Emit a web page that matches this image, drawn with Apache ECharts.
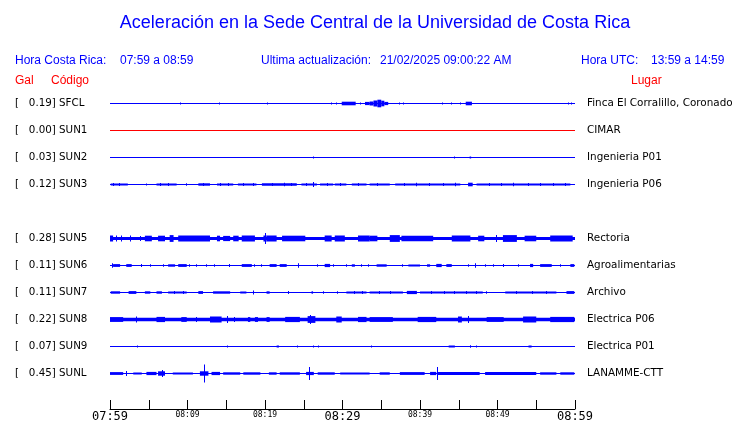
<!DOCTYPE html>
<html><head><meta charset="utf-8">
<script src="https://cdn.jsdelivr.net/npm/echarts@6/dist/echarts.min.js"></script>
<style>html,body{margin:0;padding:0;background:#fff}#c{width:740px;height:423px}</style>
</head><body><div id="c"></div>
<script>
const TITLE = 'Aceleración en la Sede Central de la Universidad de Costa Rica';
const HORA_CR_LABEL = 'Hora Costa Rica:';
const HORA_CR = '07:59 a 08:59';
const UPDATED_LABEL = 'Ultima actualización:';
const UPDATED = '21/02/2025 09:00:22 AM';
const HORA_UTC_LABEL = 'Hora UTC:';
const HORA_UTC = '13:59 a 14:59';

const codes  = ['SFCL','SUN1','SUN2','SUN3','','SUN5','SUN6','SUN7','SUN8','SUN9','SUNL'];
const gals   = ['0.19','0.00','0.03','0.12','','0.28','0.11','0.11','0.22','0.07','0.45'];
const places = ['Finca El Corralillo, Coronado','CIMAR','Ingenieria P01','Ingenieria P06','',
                'Rectoria','Agroalimentarias','Archivo','Electrica P06','Electrica P01','LANAMME-CTT'];
const tickLabels = ['07:59','','08:09','','08:19','','08:29','','08:39','','08:49','','08:59'];
const bigLabels = ['07:59','08:29','08:59'];

// Envelope bursts per station: [start minute, end minute, half amplitude in Gal]
const SFCL = [[9.1,9.1,0.05],[14.1,14.1,0.04],[20.3,20.3,0.05],[28.6,28.6,0.05],[29.2,29.2,0.05],[29.9,31.7,0.09],[32.3,32.3,0.05],[32.9,33.5,0.08],[33.5,34.0,0.10],[34.0,34.5,0.15],[34.5,35.0,0.19],[35.0,35.4,0.14],[35.4,35.9,0.08],[37.3,37.3,0.04],[37.9,37.9,0.04],[42.9,42.9,0.05],[44.0,44.0,0.05],[45.2,45.2,0.04],[45.9,46.7,0.09],[59.2,59.2,0.05],[59.6,59.6,0.05]];
const SUN1 = [];
const SUN2 = [[26.2,26.2,0.04],[44.4,44.4,0.04],[46.4,46.6,0.05]];
const SUN3 = [[0.1,2.3,0.05],[0.5,0.5,0.08],[1.2,1.2,0.08],[4.7,4.7,0.05],[6.0,8.6,0.05],[6.5,6.5,0.08],[7.6,7.6,0.08],[9.9,9.9,0.06],[11.4,12.9,0.06],[12.0,12.0,0.08],[13.8,15.9,0.05],[14.2,14.2,0.08],[15.3,15.3,0.08],[16.5,18.9,0.05],[17.2,17.2,0.08],[18.5,18.5,0.08],[19.6,24.1,0.06],[21.0,21.0,0.08],[22.5,22.5,0.09],[23.4,23.4,0.08],[24.7,26.7,0.05],[25.3,25.3,0.08],[26.2,26.2,0.12],[27.1,28.8,0.05],[28.0,28.0,0.08],[29.0,30.5,0.05],[29.8,29.8,0.08],[31.2,33.1,0.05],[32.0,32.0,0.08],[33.5,36.1,0.05],[34.5,34.5,0.08],[36.8,45.2,0.05],[38.0,38.0,0.08],[39.5,39.5,0.09],[41.2,41.2,0.08],[43.0,43.0,0.08],[44.6,44.6,0.09],[46.2,46.8,0.09],[47.3,59.4,0.05],[49.0,49.0,0.08],[50.5,50.5,0.08],[52.0,52.0,0.09],[54.0,54.0,0.08],[55.5,55.5,0.08],[57.2,57.2,0.08],[58.8,58.8,0.08]];
const SUN5 = [[0,60,0.075],[0,0.4,0.15],[0.9,0.9,0.15],[1.5,1.5,0.15],[2.6,2.6,0.15],[3.9,3.9,0.12],[4.5,5.4,0.14],[6.2,7.1,0.14],[7.7,8.2,0.17],[8.8,12.9,0.15],[13.8,14.2,0.14],[14.6,15.5,0.13],[15.9,16.6,0.14],[17.0,18.7,0.15],[19.8,20.2,0.15],[20.0,20.0,0.27],[20.2,21.5,0.15],[22.2,25.2,0.14],[27.7,28.6,0.15],[29.0,30.3,0.15],[32.0,33.5,0.15],[33.5,34.5,0.14],[36.1,37.4,0.17],[37.6,41.7,0.14],[44.1,46.5,0.15],[47.5,48.3,0.14],[49.9,49.9,0.18],[50.7,52.5,0.17],[53.5,55.0,0.14],[56.8,59.7,0.15]];
const SUN6 = [[0.3,0.3,0.11],[0.4,1.3,0.07],[2.1,2.8,0.07],[4.0,4.0,0.07],[5.2,5.2,0.06],[6.9,6.9,0.06],[7.5,8.4,0.06],[8.8,9.9,0.07],[10.3,10.3,0.06],[11.1,11.1,0.06],[12.5,12.5,0.06],[13.5,13.5,0.06],[15.4,15.4,0.07],[17.0,18.3,0.07],[18.7,18.7,0.06],[19.6,19.6,0.06],[20.6,21.5,0.07],[21.9,22.8,0.07],[24.3,24.3,0.11],[26.8,26.8,0.06],[27.7,28.4,0.08],[28.8,28.8,0.06],[30.5,30.5,0.06],[31.2,31.6,0.06],[32.5,32.5,0.06],[33.3,33.3,0.06],[34.4,35.7,0.06],[37.8,37.8,0.06],[38.5,40.0,0.05],[40.9,41.3,0.06],[42.1,42.8,0.08],[43.4,44.1,0.07],[46.2,46.2,0.06],[47.2,47.2,0.11],[48.4,48.4,0.06],[49.5,49.5,0.06],[50.8,50.8,0.07],[52.7,52.7,0.06],[54.2,54.6,0.08],[55.5,57.0,0.07],[58.1,58.1,0.06],[59.4,59.9,0.07]];
const SUN7 = [[0.1,1.3,0.06],[2.4,3.4,0.07],[4.5,5.2,0.06],[6.0,6.7,0.06],[7.5,9.9,0.05],[8.3,8.3,0.07],[9.5,9.5,0.07],[11.4,12.0,0.07],[13.3,15.5,0.06],[16.8,17.6,0.05],[18.5,18.5,0.10],[20.2,20.6,0.06],[23.0,23.0,0.08],[26.0,26.2,0.06],[27.5,27.5,0.06],[29.4,29.4,0.06],[30.5,33.1,0.05],[31.5,31.5,0.07],[32.6,32.6,0.07],[33.5,37.8,0.05],[34.8,34.8,0.07],[36.2,36.2,0.07],[38.3,39.6,0.08],[40.0,48.1,0.05],[41.5,41.5,0.07],[43.2,43.2,0.07],[44.5,44.5,0.07],[46.0,46.0,0.07],[47.3,47.3,0.07],[48.6,48.6,0.06],[51.0,57.6,0.05],[52.5,52.5,0.07],[54.5,54.5,0.07],[56.3,56.3,0.07],[58.9,59.9,0.07]];
const SUN8 = [[0,60,0.085],[0,1.7,0.12],[3.4,3.4,0.15],[6.0,7.1,0.13],[9.2,9.9,0.12],[11.2,11.2,0.12],[12.9,14.4,0.15],[15.1,15.1,0.17],[16.1,16.1,0.12],[17.8,18.1,0.12],[18.7,19.1,0.12],[20.2,20.6,0.12],[22.6,24.5,0.13],[25.5,26.5,0.17],[25.9,25.9,0.22],[29.2,29.9,0.15],[32.0,33.1,0.13],[33.5,36.5,0.12],[39.7,42.1,0.13],[44.9,45.4,0.15],[46.3,46.3,0.18],[48.6,50.8,0.12],[53.3,55.0,0.15],[56.8,59.9,0.13]];
const SUN9 = [[3.5,3.5,0.04],[15.1,15.1,0.05],[21.5,21.8,0.05],[24.2,24.2,0.04],[26.2,26.2,0.05],[26.9,26.9,0.04],[33.8,33.8,0.04],[43.7,44.5,0.05],[46.5,46.5,0.06],[47.3,47.3,0.04],[54.0,54.4,0.05]];
const SUNL = [[0,1.7,0.07],[2.1,2.1,0.12],[3.0,4.1,0.05],[4.7,6.0,0.08],[6.2,7.1,0.11],[6.8,6.8,0.17],[8.1,10.7,0.05],[11.6,12.7,0.11],[12.2,12.2,0.45],[13.1,14.2,0.08],[14.6,16.8,0.06],[17.2,19.4,0.06],[20.5,21.5,0.06],[21.9,24.5,0.06],[25.3,26.3,0.08],[25.8,25.8,0.32],[26.8,29.0,0.06],[29.7,33.5,0.05],[34.8,36.1,0.06],[37.4,40.6,0.07],[41.3,42.1,0.08],[42.2,42.2,0.32],[42.3,47.7,0.07],[48.4,55.0,0.07],[55.5,57.6,0.06],[58.1,59.9,0.06]];

const traces = [SFCL, SUN1, SUN2, SUN3, null, SUN5, SUN6, SUN7, SUN8, SUN9, SUNL];
const traceColors = ['#0000ff','#ff0000','#0000ff','#0000ff',null,'#0000ff','#0000ff','#0000ff','#0000ff','#0000ff','#0000ff'];

const PX_PER_GAL = 20;
const BLUE = '#0000ff', RED = '#ff0000';

function renderItem(params, api) {
  const s = api.value(0), e = api.value(1), row = api.value(2), amp = api.value(3);
  const p1 = api.coord([s, row]), p2 = api.coord([e, row]);
  const color = api.visual('color');
  const cy = Math.floor(p1[1]) + 0.5;
  if (amp === 0) {
    return {type:'line', shape:{x1:p1[0], y1:cy, x2:p2[0], y2:cy}, style:{stroke:color, lineWidth:1}};
  }
  const h = Math.max(1, amp * PX_PER_GAL);
  const w = Math.max(1, p2[0] - p1[0]);
  return {type:'rect', shape:{x: w === 1 ? Math.floor(p1[0]) : p1[0], y: cy - h, width: w, height: 2*h}, style:{fill:color}};
}

const series = [];
traces.forEach((tr, i) => {
  if (!tr) return;
  series.push({
    type:'custom', renderItem, silent:true, animation:false,
    itemStyle:{color: traceColors[i]},
    encode:{x:[0,1], y:2},
    data: [[0,60,i,0]].concat(tr.map(b => [b[0], b[1], i, b[2]]))
  });
});

const hdr = (text, x, y, color, size, align) => ({
  type:'text', x, y, silent:true,
  style:{text, fill:color, font: size + 'px "Liberation Sans", Arial, sans-serif', align: align || 'left', verticalAlign:'middle'}
});

const chart = echarts.init(document.getElementById('c'));
chart.setOption({
  backgroundColor:'#fff',
  animation:false,
  grid:{left:110, right:165, top:90, bottom:36},
  xAxis:{
    type:'value', min:0, max:60, interval:5, position:'bottom', offset:22,
    axisLine:{show:true, lineStyle:{color:'#000', width:1}},
    axisTick:{show:true, inside:true, length:9, lineStyle:{color:'#000', width:1}},
    splitLine:{show:false},
    axisLabel:{
      margin:2, showMinLabel:true, showMaxLabel:true,
      formatter:(v) => {
        const lab = tickLabels[Math.round(v/5)] || '';
        if (!lab) return '';
        return bigLabels.includes(lab) ? '{b|' + lab + '}' : '{s|' + lab + '}';
      },
      rich:{
        b:{fontFamily:'DejaVu Sans Mono', fontSize:12, color:'#000'},
        s:{fontFamily:'DejaVu Sans Mono', fontSize:8, color:'#000'}
      }
    }
  },
  yAxis:[{
    type:'category', data:codes, inverse:true, position:'left',
    axisLine:{show:false}, axisTick:{show:false}, splitLine:{show:false},
    axisLabel:{interval:0, align:'left', margin:95, fontFamily:'DejaVu Sans', fontSize:10.3, color:'#000',
      formatter:(v, i) => codes[i] ? '[   ' + gals[i] + '] ' + codes[i] : ''}
  },{
    type:'category', data:codes, inverse:true, position:'right',
    axisLine:{show:false}, axisTick:{show:false}, splitLine:{show:false},
    axisLabel:{interval:0, align:'left', margin:12, fontFamily:'DejaVu Sans', fontSize:10.4, color:'#000',
      formatter:(v, i) => places[i]}
  }],
  graphic:[
    hdr(TITLE, 375, 23, BLUE, 18, 'center'),
    hdr(HORA_CR_LABEL, 15, 61, BLUE, 12),
    hdr(HORA_CR, 120, 61, BLUE, 12),
    hdr(UPDATED_LABEL, 261, 61, BLUE, 12),
    hdr(UPDATED, 380, 61, BLUE, 12),
    hdr(HORA_UTC_LABEL, 581, 61, BLUE, 12),
    hdr(HORA_UTC, 651, 61, BLUE, 12),
    hdr('Gal', 15, 81, RED, 12),
    hdr('Código', 51, 81, RED, 12),
    hdr('Lugar', 631, 81, RED, 12)
  ],
  series
});
</script></body></html>
